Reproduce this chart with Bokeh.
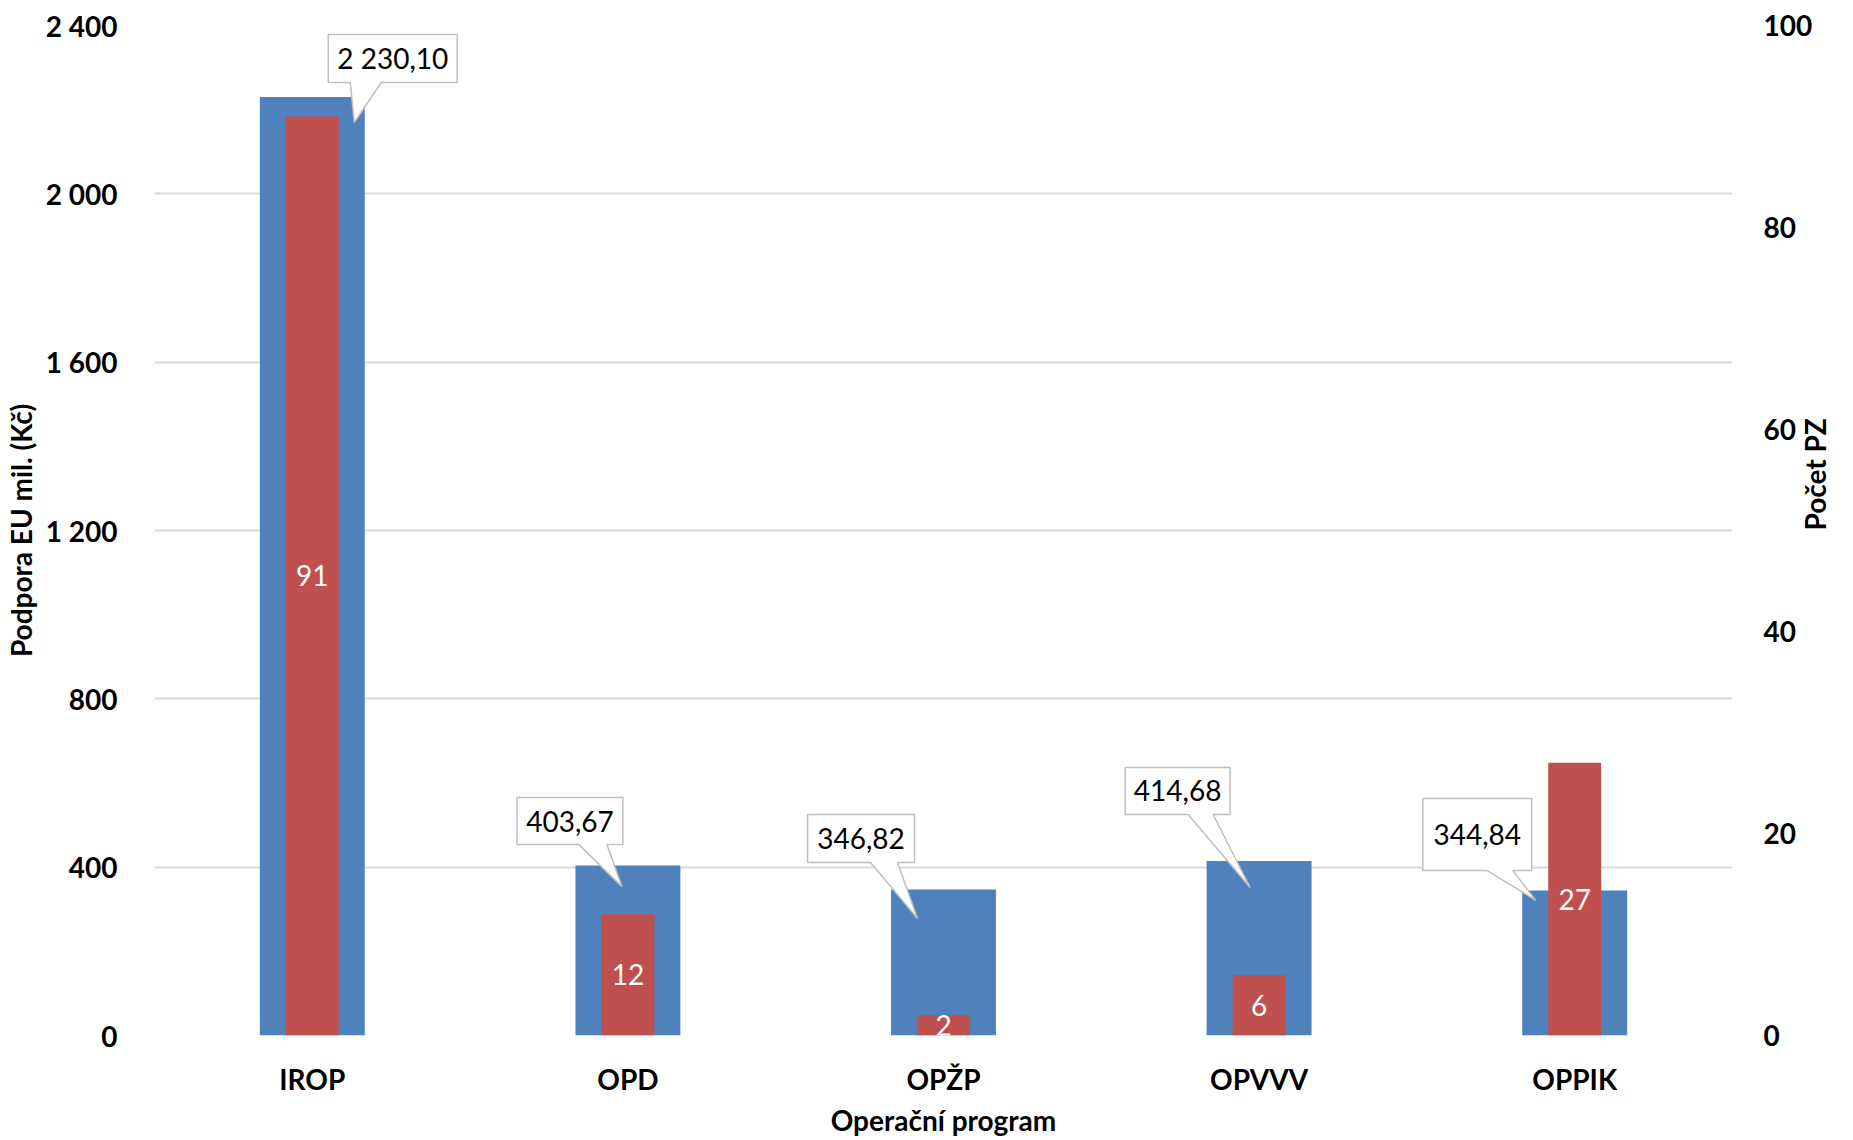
import math
from bokeh.plotting import figure
from bokeh.models import Range1d, LinearAxis, FixedTicker, ColumnDataSource
from bokeh.core.properties import value
from bokeh.embed import file_html
from bokeh.resources import INLINE

# ---------------- data ----------------
programs = ["IROP", "OPD", "OPŽP", "OPVVV", "OPPIK"]
support = [2230.10, 403.67, 346.82, 414.68, 344.84]          # Podpora EU mil. (Kč)
support_labels = ["2 230,10", "403,67", "346,82", "414,68", "344,84"]
counts = [91, 12, 2, 6, 27]                                   # Počet PZ
left_ticks = [0, 400, 800, 1200, 1600, 2000, 2400]
left_tick_labels = ["0", "400", "800", "1 200", "1 600", "2 000", "2 400"]
right_ticks = [0, 20, 40, 60, 80, 100]

# ---------------- layout ----------------
W, H = 1853, 1140
FL, FR, FT, FB = 153, 121, 25, 105
frame_w = W - FL - FR
frame_h = H - FT - FB
Y_MAX = 2400
C_MAX = 100
px_x = 5.0 / frame_w          # data units per px (x)
px_y = Y_MAX / frame_h        # data units per px (y)

BLUE = "#4f81bd"
RED = "#c0504d"
GRID = "#d9d9d9"
FONT = "Lato"

# callout geometry (pixel offsets relative to bar centre / bar top; + = right / down)
# (left, right, top, bottom, base1, base2, tip_x, tip_y)
callout_px = [
    (16, 145, -62.5, -14.5, 38, 69, 42, 25.5),
    (-111, -5, -68, -21, -49, -21, -6, 21),
    (-136, -29, -75, -27, -73, -46, -26, 29),
    (-134, -29, -93.5, -46.5, -71, -46, -9, 26.5),
    (-152, -43, -92, -20, -88, -62, -39, 10),
]

p = figure(width=W, height=H,
           x_range=Range1d(-0.5, 4.5), y_range=Range1d(0, Y_MAX),
           output_backend="svg", toolbar_location=None,
           min_border_left=FL, min_border_right=FR,
           min_border_top=FT, min_border_bottom=FB)
p.extra_y_ranges = {"count": Range1d(0, C_MAX)}
p.outline_line_color = None
p.background_fill_color = "white"
p.border_fill_color = "white"

xs = list(range(len(programs)))
src = ColumnDataSource(dict(x=xs, support=support, counts=counts,
                            half=[c / 2 for c in counts],
                            clab=[str(c) for c in counts]))

p.vbar(x="x", top="support", bottom=0, width=105 * px_x, source=src,
       fill_color=BLUE, line_color=None)
p.vbar(x="x", top="counts", bottom=0, width=53 * px_x, source=src,
       fill_color=RED, line_color=None, y_range_name="count")

# callouts
pxs, pys, tx, ty = [], [], [], []
for i, (v, g) in enumerate(zip(support, callout_px)):
    L, R, T, B, b1, b2, tipx, tipy = g
    X = lambda d: i + d * px_x
    Y = lambda d: v - d * px_y
    pxs.append([X(L), X(R), X(R), X(b2), X(tipx), X(b1), X(L)])
    pys.append([Y(T), Y(T), Y(B), Y(B), Y(tipy), Y(B), Y(B)])
    tx.append(X((L + R) / 2))
    ty.append(Y((T + B) / 2))
p.patches(pxs, pys, fill_color="white", line_color="#bfbfbf", line_width=1.5)
p.text(tx, ty, text=support_labels, text_align="center", text_baseline="middle",
       text_font=value(FONT), text_font_size="28px", text_color="black")

# white count labels inside red bars
p.text(x="x", y="half", text="clab", source=src, y_range_name="count",
       text_align="center", text_baseline="middle",
       text_font=value(FONT), text_font_size="28px", text_color="white")

# axes
def style(ax):
    ax.axis_line_color = None
    ax.major_tick_line_color = None
    ax.minor_tick_line_color = None
    ax.major_label_text_font = FONT
    ax.major_label_text_font_size = "28px"
    ax.major_label_text_font_style = "bold"
    ax.major_label_text_color = "black"
    ax.axis_label_text_font = FONT
    ax.axis_label_text_font_size = "28px"
    ax.axis_label_text_font_style = "bold"
    ax.axis_label_text_color = "black"

yl = p.yaxis[0]
style(yl)
yl.ticker = FixedTicker(ticks=left_ticks)
yl.major_label_overrides = {t: s for t, s in zip(left_ticks, left_tick_labels)}
yl.major_label_standoff = 31
yl.axis_label = "Podpora EU mil. (Kč)"
yl.axis_label_standoff = 5

yr = LinearAxis(y_range_name="count", ticker=FixedTicker(ticks=right_ticks))
style(yr)
yr.major_label_standoff = 25
yr.axis_label = "Počet PZ"
yr.axis_label_standoff = 0
yr.axis_label_orientation = math.pi / 2
p.add_layout(yr, "right")

xa = p.xaxis[0]
style(xa)
xa.ticker = FixedTicker(ticks=xs)
xa.major_label_overrides = {i: n for i, n in enumerate(programs)}
xa.major_label_standoff = 20
xa.axis_label = "Operační program"
xa.axis_label_standoff = 4

p.xgrid.grid_line_color = None
p.ygrid.grid_line_color = GRID
p.ygrid.grid_line_width = 2
p.ygrid.ticker = FixedTicker(ticks=left_ticks)

open("out.html", "w").write(file_html(p, INLINE))
